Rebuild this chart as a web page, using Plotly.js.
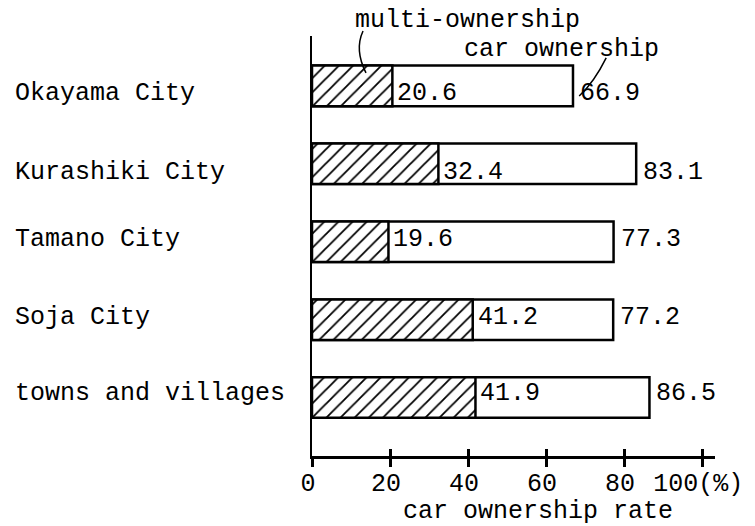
<!DOCTYPE html>
<html>
<head>
<meta charset="utf-8">
<script src="https://cdn.plot.ly/plotly-3.0.1.min.js"></script>
<style>html,body{margin:0;padding:0;background:#fff;}#chart{width:755px;height:526px;}</style>
</head>
<body>
<div id="chart"></div>
<script>
// ---- data ----
const categories = ["Okayama City", "Kurashiki City", "Tamano City", "Soja City", "towns and villages"];
const carOwnership = [66.9, 83.1, 77.3, 77.2, 86.5];
const multiOwnership = [20.6, 32.4, 19.6, 41.2, 41.9];
const tickValues = [0, 20, 40, 60, 80, 100];
const tickLabels = ["0", "20", "40", "60", "80", "100(%)"];

// ---- style ----
const FONT = "Liberation Mono, Courier New, monospace";
const FS = 25;
const rowShift = [-8, -9, 2, 2, 4];

const traces = [
  {
    type: "bar", orientation: "h", name: "car ownership",
    y: categories, x: carOwnership, width: 0.52,
    marker: {color: "#ffffff", line: {color: "#000", width: 2.5}},
    hoverinfo: "skip"
  },
  {
    type: "bar", orientation: "h", name: "multi-ownership",
    y: categories, x: multiOwnership, width: 0.52,
    marker: {color: "#ffffff", line: {color: "#000", width: 2.5},
             pattern: {shape: "/", fgcolor: "#000", bgcolor: "#fff", size: 10, solidity: 0.18}},
    hoverinfo: "skip"
  },
  { // dummy trace on overlay axis to draw crossing ticks
    type: "scatter", x: [0], y: [categories[0]], xaxis: "x2", mode: "none", showlegend: false, hoverinfo: "skip"
  }
];

const annotations = [];
categories.forEach((c, i) => {
  annotations.push({xref: "paper", yref: "y", x: -0.742, y: c, xanchor: "left", yanchor: "middle",
    yshift: rowShift[i], text: c, showarrow: false, font: {family: FONT, size: FS, color: "#000"}});
  annotations.push({xref: "x", yref: "y", x: multiOwnership[i], y: c, xanchor: "left", yanchor: "middle",
    xshift: 3, yshift: rowShift[i], text: multiOwnership[i].toFixed(1), showarrow: false,
    font: {family: FONT, size: FS, color: "#000"}});
  annotations.push({xref: "x", yref: "y", x: carOwnership[i], y: c, xanchor: "left", yanchor: "middle",
    xshift: 5, yshift: rowShift[i], text: carOwnership[i].toFixed(1), showarrow: false,
    font: {family: FONT, size: FS, color: "#000"}});
});
annotations.push({xref: "paper", yref: "paper", x: 0.385, y: 1.038, xanchor: "center", yanchor: "middle",
  text: "multi-ownership", showarrow: false, font: {family: FONT, size: FS, color: "#000"}});
annotations.push({xref: "paper", yref: "paper", x: 0.618, y: 0.967, xanchor: "center", yanchor: "middle",
  text: "car ownership", showarrow: false, font: {family: FONT, size: FS, color: "#000"}});
annotations.push({xref: "paper", yref: "paper", x: 0.561, y: -0.133, xanchor: "center", yanchor: "middle",
  text: "car ownership rate", showarrow: false, font: {family: FONT, size: FS, color: "#000"}});

const shapes = [
  {type: "path", xref: "paper", yref: "paper", path: "M 0.1266 1.012 Q 0.105 0.967 0.134 0.912",
   line: {color: "#000", width: 1.5}},
  {type: "path", xref: "paper", yref: "paper", path: "M 0.730 0.948 Q 0.700 0.890 0.663 0.857",
   line: {color: "#000", width: 1.5}}
];

const layout = {
  width: 755, height: 526,
  margin: {l: 312, r: 40, t: 36, b: 70, pad: 0},
  paper_bgcolor: "#fff", plot_bgcolor: "#fff",
  showlegend: false,
  barmode: "overlay",
  font: {family: FONT, size: FS, color: "#000"},
  xaxis: {range: [0, 103.3], showgrid: false, zeroline: false, showline: true, linecolor: "#000", linewidth: 2.5,
          tickmode: "array", tickvals: tickValues, ticktext: tickLabels, ticks: "outside", ticklen: 8,
          tickwidth: 3, tickcolor: "#000", ticklabelshift: -4, ticklabelstandoff: -6,
          tickfont: {family: FONT, size: FS, color: "#000"}, fixedrange: true},
  xaxis2: {range: [0, 103.3], overlaying: "x", anchor: "y", side: "bottom", showgrid: false, zeroline: false,
           showline: false, tickmode: "array", tickvals: tickValues, ticks: "inside", ticklen: 7,
           tickwidth: 3, tickcolor: "#000", showticklabels: false, fixedrange: true},
  yaxis: {type: "category", categoryorder: "array", categoryarray: categories, range: [4.75, -0.64],
          showgrid: false, zeroline: false, showline: true, linecolor: "#000", linewidth: 2.5,
          showticklabels: false, ticks: "", fixedrange: true},
  annotations: annotations,
  shapes: shapes
};

Plotly.newPlot("chart", traces, layout, {displayModeBar: false, staticPlot: true});
</script>
</body>
</html>
